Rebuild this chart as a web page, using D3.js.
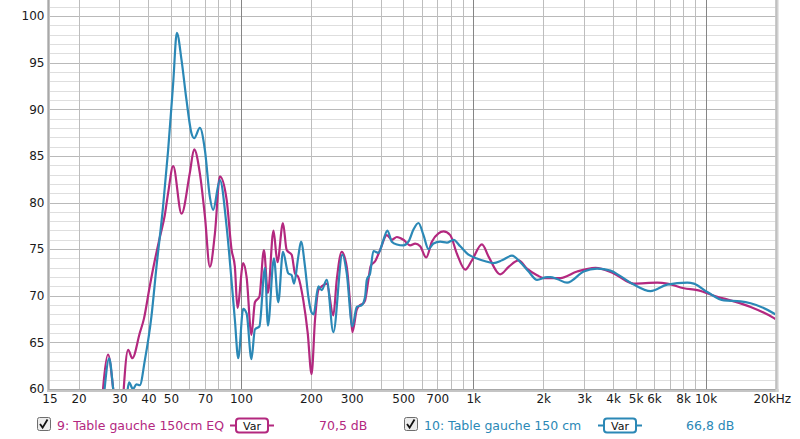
<!DOCTYPE html>
<html><head><meta charset="utf-8">
<script src="https://cdn.jsdelivr.net/npm/d3@7"></script>
<style>
html,body{margin:0;padding:0;background:#fff;}
svg{display:block;font-family:"DejaVu Sans",sans-serif;}
</style></head>
<body><svg id="c" width="800" height="439"></svg>
<script>
// ---------- data ----------
const freqEQ = [25.0,25.5,26.8,28.2,29.5,30.5,31.3,32.7,34.1,36.7,38.3,40.5,42.6,44.8,47.0,48.6,51.1,55.5,60.3,62.9,66.6,70.0,73.5,77.3,81.2,86.8,91.2,94.2,96.6,102.3,105.8,111.0,114.9,120.1,125.6,130.7,138.1,143.6,151.7,157.4,165.4,170.9,176.6,185.6,193.9,201.4,208.4,215.4,222.8,234.1,249.9,258.5,271.6,285.5,295.0,301.8,315.3,325.8,336.7,342.4,353.8,362,378,397.3,424.6,446.2,469.0,500.7,535.0,562.3,591.0,627.3,663.7,708.7,744.7,796.0,850.8,923.8,987.2,1090,1164,1307,1420,1567,1703,1882,2010,2371,2799,3357,4024,4909,6192,6839,8064,9209,11230,13243,15631,19703,20000];
const dbEQ   = [57.0,60.0,63.7,60.0,55.0,55.0,60.0,64.2,63.3,66.0,67.6,71.0,73.8,76.3,78.6,81.0,83.9,78.8,83.2,85.7,83.1,78.5,73.1,76.7,82.8,80.3,74.9,73.1,68.7,73.5,72.0,65.8,69.3,69.9,74.9,70.3,77.0,73.6,77.8,74.9,74.4,72.4,72.0,69.5,66.0,61.6,67.4,70.6,71.0,71.3,67.9,71.7,74.7,73.1,69.2,66.1,68.5,69.0,69.2,69.5,71.7,73.2,73.7,74.9,76.5,76.0,76.3,76.0,75.4,75.6,75.3,74.1,75.8,76.7,76.9,76.5,74.5,72.8,73.8,75.5,74.2,72.3,73.1,73.8,72.9,72.2,71.9,71.9,72.6,73.0,72.4,71.3,71.4,71.3,70.8,70.6,69.9,69.4,68.8,67.6,67.5];
const freqRaw = [25.3,25.9,27.1,28.2,29.5,31.5,32.5,33.0,34.3,35.5,36.7,38.6,41.2,43.3,46.2,48.6,51.1,53.0,55.5,58.3,61.3,62.9,66.6,70.0,73.5,75.9,81.2,86.8,91.2,94.2,97.4,102.3,105.8,111.0,114.9,120.1,126.9,130.7,138.7,144.8,151.7,159.9,165.4,169.2,176.6,181.4,188.8,195.1,201.4,205.5,215.4,222.8,234.1,249.9,273.3,285.5,301.8,315.3,331.4,342.4,348.2,359.8,371.8,390.7,410.6,427.2,446.2,469.0,500.7,526.1,552.9,581.0,610.7,641.8,674.4,720.8,770.2,822.6,879.2,954.3,1037,1127,1223,1330,1468,1594,1731,1882,2079,2148,2295,2535,2988,3414,3895,4301,4909,5793,6839,8339,8905,10169,11995,14155,15631,19703,20000];
const dbRaw   = [57.0,60.0,63.3,60.0,55.0,55.0,59.8,60.7,60.0,60.5,60.4,63.1,67.8,73.1,79.5,85.6,92.8,98.2,95.3,91.0,87.4,86.9,88.0,85.6,80.6,79.2,82.4,77.4,71.5,67.4,63.3,68.6,68.1,63.2,66.4,66.7,73.0,66.8,74.0,69.3,74.7,72.4,72.2,71.3,74.2,75.8,73.1,69.9,68.2,68.0,71.0,70.6,71.7,66.1,74.4,72.4,66.7,68.8,69.0,69.9,71.7,72.4,74.8,74.6,76.0,77.0,75.8,75.5,75.4,75.8,77.1,77.8,76.5,75.0,75.6,75.8,75.7,76.0,75.3,74.4,74.0,73.7,73.5,73.8,74.3,73.6,72.6,71.7,72.0,72.0,71.8,71.4,72.6,72.9,72.7,72.1,71.2,70.5,71.2,71.4,71.3,70.4,69.5,69.4,69.2,68.1,68.0];
const yTicks = [60,65,70,75,80,85,90,95,100];
const xTickValues = [15,20,30,40,50,70,100,200,300,500,700,1000,2000,3000,4000,5000,6000,8000,10000,20000];
const xTickLabels = ["15","20","30","40","50","70","100","200","300","500","700","1k","2k","3k","4k","5k","6k","8k","10k","20kHz"];
const seriesNames = ["9: Table gauche 150cm EQ","10: Table gauche 150 cm"];
const seriesLevels = ["70,5 dB","66,8 dB"];
const colors = ["#b3287f","#2b88b6"];

// ---------- layout ----------
const svg = d3.select("#c");
const L = 49.5, R = 775.5, T = 0, B = 389;
const x = d3.scaleLog().domain([15,20000]).range([L,R]);
const y = d3.scaleLinear().domain([60,100]).range([B,16]);

svg.append("rect").attr("x",L).attr("y",T).attr("width",R-L).attr("height",B-T).attr("fill","#fff");

const grid = svg.append("g");
const yTop = y.invert(T);
const hMinor = d3.range(60, Math.floor(yTop)+1, 1);
grid.selectAll("line.h").data(hMinor).join("line")
  .attr("x1",L).attr("x2",R)
  .attr("y1",d=>Math.round(y(d))+0.5).attr("y2",d=>Math.round(y(d))+0.5)
  .attr("stroke",d=> d%5===0 ? "#b9b9b9" : "#dedede").attr("stroke-width",1);
const vLines = [];
[10,100,1000,10000].forEach(dec=>{ for(let k=1;k<=9;k++){ const v=dec*k; if(v>15 && v<20000) vLines.push(v);} });
grid.selectAll("line.v").data(vLines).join("line")
  .attr("y1",T).attr("y2",B)
  .attr("x1",d=>Math.round(x(d))+0.5).attr("x2",d=>Math.round(x(d))+0.5)
  .attr("stroke",d=> (d===100||d===1000||d===10000) ? "#858585" : "#bdbdbd").attr("stroke-width",1);

svg.append("clipPath").attr("id","pc").append("rect").attr("x",L).attr("y",T-5).attr("width",R-L).attr("height",B-T+5);

const line = d3.line().x(d=>x(d[0])).y(d=>y(d[1])).curve(d3.curveMonotoneX);
const plots = svg.append("g").attr("clip-path","url(#pc)");
const dataEQ = freqEQ.map((f,i)=>[f,dbEQ[i]]);
const dataRaw = freqRaw.map((f,i)=>[f,dbRaw[i]]);
plots.append("path").datum(dataEQ).attr("d",line).attr("fill","none").attr("stroke",colors[0]).attr("stroke-width",2.2).attr("stroke-linejoin","round");
plots.append("path").datum(dataRaw).attr("d",line).attr("fill","none").attr("stroke",colors[1]).attr("stroke-width",2.2).attr("stroke-linejoin","round");

svg.append("rect").attr("x",47).attr("y",T).attr("width",3).attr("height",B+3-T).attr("fill","#c4c4c4");
svg.append("rect").attr("x",48).attr("y",T).attr("width",1).attr("height",B+2-T).attr("fill","#a8a8a8");
svg.append("rect").attr("x",47).attr("y",B).attr("width",R+3-47).attr("height",3).attr("fill","#c4c4c4");
svg.append("rect").attr("x",48).attr("y",B).attr("width",R+2-48).attr("height",1).attr("fill","#a8a8a8");
svg.append("rect").attr("x",R).attr("y",T).attr("width",3).attr("height",B+3-T).attr("fill","#d0d0d0");
svg.append("rect").attr("x",R).attr("y",T).attr("width",1).attr("height",B-T).attr("fill","#b0b0b0");

const yAxis = d3.axisLeft(y).tickValues(yTicks).tickSize(0).tickPadding(0).tickFormat(d3.format("d"));
const gy = svg.append("g").attr("transform",`translate(44.5,0)`).call(yAxis);
gy.select(".domain").remove();
gy.selectAll("text").attr("font-size",12).attr("fill","#1a1a1a").attr("font-family","DejaVu Sans");

const xAxis = d3.axisBottom(x).tickValues(xTickValues).tickSize(0).tickPadding(0)
  .tickFormat((d,i)=>xTickLabels[i]);
const gx = svg.append("g").attr("transform",`translate(0,${B+3})`).call(xAxis);
gx.select(".domain").remove();
gx.selectAll("text").attr("font-size",12).attr("fill","#1a1a1a").attr("font-family","DejaVu Sans").attr("dy","0.95em");
gx.selectAll(".tick").filter(d=>d===20000).select("text").attr("text-anchor","end").attr("dx","15");

const legend = svg.append("g");
const legX = [37,404];
const varX = [236,604];
const lvlX = [319,686];
seriesNames.forEach((name,i)=>{
  const g = legend.append("g");
  const cb = g.append("g").attr("transform",`translate(${legX[i]},417)`);
  cb.append("rect").attr("x",0.5).attr("y",0.5).attr("width",13).attr("height",13).attr("rx",2)
    .attr("fill","#ececec").attr("stroke","#6e6e6e");
  cb.append("path").attr("d","M3,7 L5.6,10.6 L10.5,2.5").attr("fill","none").attr("stroke","#111").attr("stroke-width",1.8);
  g.append("text").attr("x",legX[i]+20).attr("y",429.5).attr("font-size",12.5).attr("fill",colors[i]).text(name);
  g.append("line").attr("x1",varX[i]-6).attr("x2",varX[i]+38).attr("y1",425.5).attr("y2",425.5).attr("stroke",colors[i]).attr("stroke-width",2);
  g.append("rect").attr("x",varX[i]).attr("y",418.5).attr("width",32).attr("height",14).attr("rx",3)
    .attr("fill","#fff").attr("stroke",colors[i]).attr("stroke-width",2);
  g.append("text").attr("x",varX[i]+16).attr("y",429.5).attr("text-anchor","middle").attr("font-size",11).attr("fill","#111").text("Var");
  g.append("text").attr("x",lvlX[i]).attr("y",429.5).attr("font-size",12.5).attr("fill",colors[i]).text(seriesLevels[i]);
});
</script></body></html>
